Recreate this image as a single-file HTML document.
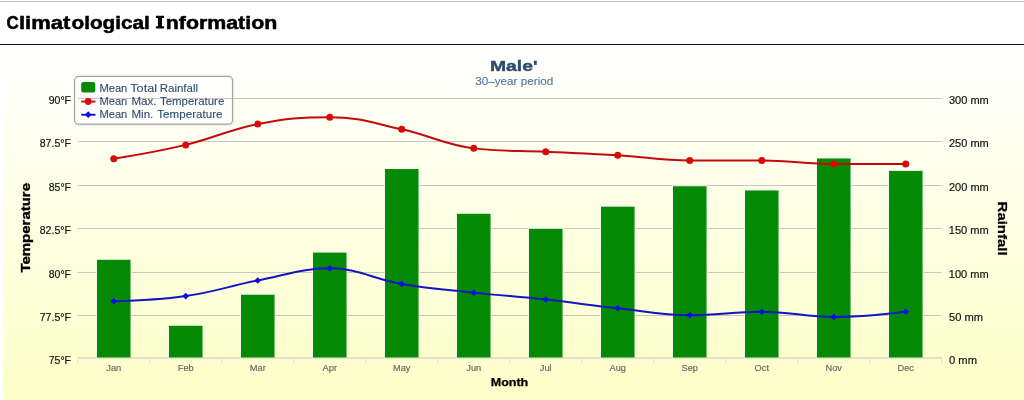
<!DOCTYPE html>
<html><head><meta charset="utf-8"><title>Climatological Information</title>
<style>
html,body{margin:0;padding:0;background:#fff;width:1024px;height:400px;overflow:hidden}
svg{display:block;font-family:"Liberation Sans",sans-serif;will-change:transform}
text{font-family:"Liberation Sans",sans-serif}
</style></head><body>
<svg width="1024" height="400" viewBox="0 0 1024 400">
<defs>
<linearGradient id="bg" x1="0" y1="0" x2="0" y2="1">
<stop offset="0" stop-color="#ffffff"/><stop offset="1" stop-color="#fcffc7"/>
</linearGradient>
</defs>
<rect x="0" y="0" width="1024" height="400" fill="#fff"/>
<rect x="0" y="1" width="1024" height="1" fill="#c4c4c4"/>
<rect x="0" y="44" width="1024" height="1" fill="#111"/>
<rect x="3" y="45" width="1021" height="355" fill="url(#bg)"/>

<text x="6.47" y="28.50" font-size="18.2" font-weight="bold" fill="#000" stroke="#000" stroke-width="0.5" textLength="12.31" lengthAdjust="spacingAndGlyphs">C</text>
<text x="18.97" y="28.50" font-size="18.2" font-weight="bold" fill="#000" stroke="#000" stroke-width="0.5" textLength="51.28" lengthAdjust="spacingAndGlyphs">limat</text>
<text x="71.49" y="28.50" font-size="18.2" font-weight="bold" fill="#000" stroke="#000" stroke-width="0.5" textLength="78.29" lengthAdjust="spacingAndGlyphs">ological</text>
<path d="M155.9 15.7h8.1v2.2h-2v8.4h2v2.2h-8.1v-2.2h2v-8.4h-2z" fill="#000"/>
<text x="165.73" y="28.50" font-size="18.2" font-weight="bold" fill="#000" stroke="#000" stroke-width="0.5" textLength="111.54" lengthAdjust="spacingAndGlyphs">nformation</text>
<rect x="77.75" y="98.0" width="864.00" height="1" fill="#c9c8be"/>
<rect x="77.75" y="141.0" width="864.00" height="1" fill="#c9c8be"/>
<rect x="77.75" y="185.0" width="864.00" height="1" fill="#c9c8be"/>
<rect x="77.75" y="228.0" width="864.00" height="1" fill="#c9c8be"/>
<rect x="77.75" y="272.0" width="864.00" height="1" fill="#c9c8be"/>
<rect x="77.75" y="315.0" width="864.00" height="1" fill="#c9c8be"/>
<rect x="77.75" y="357.2" width="864.00" height="1.4" fill="#d4d6c8"/>
<rect x="77.25" y="358" width="1" height="5" fill="#dfe1d0"/>
<rect x="149.25" y="358" width="1" height="5" fill="#dfe1d0"/>
<rect x="221.25" y="358" width="1" height="5" fill="#dfe1d0"/>
<rect x="293.25" y="358" width="1" height="5" fill="#dfe1d0"/>
<rect x="365.25" y="358" width="1" height="5" fill="#dfe1d0"/>
<rect x="437.25" y="358" width="1" height="5" fill="#dfe1d0"/>
<rect x="509.25" y="358" width="1" height="5" fill="#dfe1d0"/>
<rect x="581.25" y="358" width="1" height="5" fill="#dfe1d0"/>
<rect x="653.25" y="358" width="1" height="5" fill="#dfe1d0"/>
<rect x="725.25" y="358" width="1" height="5" fill="#dfe1d0"/>
<rect x="797.25" y="358" width="1" height="5" fill="#dfe1d0"/>
<rect x="869.25" y="358" width="1" height="5" fill="#dfe1d0"/>
<rect x="941.25" y="358" width="1" height="5" fill="#dfe1d0"/>
<rect x="96.00" y="258.78" width="35.5" height="98.72" fill="#ffffff" fill-opacity="0.7"/>
<rect x="96.95" y="259.78" width="33.6" height="97.72" fill="#048a04"/>
<rect x="168.00" y="324.73" width="35.5" height="32.77" fill="#ffffff" fill-opacity="0.7"/>
<rect x="168.95" y="325.73" width="33.6" height="31.77" fill="#048a04"/>
<rect x="240.00" y="293.70" width="35.5" height="63.80" fill="#ffffff" fill-opacity="0.7"/>
<rect x="240.95" y="294.70" width="33.6" height="62.80" fill="#048a04"/>
<rect x="312.00" y="251.58" width="35.5" height="105.92" fill="#ffffff" fill-opacity="0.7"/>
<rect x="312.95" y="252.58" width="33.6" height="104.92" fill="#048a04"/>
<rect x="384.00" y="168.04" width="35.5" height="189.46" fill="#ffffff" fill-opacity="0.7"/>
<rect x="384.95" y="169.04" width="33.6" height="188.46" fill="#048a04"/>
<rect x="456.00" y="212.76" width="35.5" height="144.74" fill="#ffffff" fill-opacity="0.7"/>
<rect x="456.95" y="213.76" width="33.6" height="143.74" fill="#048a04"/>
<rect x="528.00" y="227.84" width="35.5" height="129.66" fill="#ffffff" fill-opacity="0.7"/>
<rect x="528.95" y="228.84" width="33.6" height="128.66" fill="#048a04"/>
<rect x="600.00" y="205.65" width="35.5" height="151.85" fill="#ffffff" fill-opacity="0.7"/>
<rect x="600.95" y="206.65" width="33.6" height="150.85" fill="#048a04"/>
<rect x="672.00" y="185.28" width="35.5" height="172.22" fill="#ffffff" fill-opacity="0.7"/>
<rect x="672.95" y="186.28" width="33.6" height="171.22" fill="#048a04"/>
<rect x="744.00" y="189.44" width="35.5" height="168.06" fill="#ffffff" fill-opacity="0.7"/>
<rect x="744.95" y="190.44" width="33.6" height="167.06" fill="#048a04"/>
<rect x="816.00" y="157.46" width="35.5" height="200.04" fill="#ffffff" fill-opacity="0.7"/>
<rect x="816.95" y="158.46" width="33.6" height="199.04" fill="#048a04"/>
<rect x="888.00" y="169.86" width="35.5" height="187.64" fill="#ffffff" fill-opacity="0.7"/>
<rect x="888.95" y="170.86" width="33.6" height="186.64" fill="#048a04"/>
<path d="M113.75 158.77 C113.75 158.77 156.95 151.83 185.75 144.90 C214.55 137.97 228.95 129.65 257.75 124.10 C286.55 118.55 300.95 117.17 329.75 117.17 C358.55 117.17 372.95 123.06 401.75 129.30 C430.55 135.54 444.95 144.90 473.75 148.37 C502.55 151.83 516.95 150.45 545.75 151.83 C574.55 153.22 588.95 153.57 617.75 155.30 C646.55 157.03 660.95 160.50 689.75 160.50 C718.55 160.50 732.95 160.50 761.75 160.50 C790.55 160.50 804.95 163.97 833.75 163.97 C862.55 163.97 905.75 163.97 905.75 163.97" fill="none" stroke="#c20a0a" stroke-width="2" stroke-linecap="round" stroke-linejoin="round"/>
<circle cx="113.75" cy="158.77" r="3.5" fill="#da0a0a"/>
<circle cx="185.75" cy="144.90" r="3.5" fill="#da0a0a"/>
<circle cx="257.75" cy="124.10" r="3.5" fill="#da0a0a"/>
<circle cx="329.75" cy="117.17" r="3.5" fill="#da0a0a"/>
<circle cx="401.75" cy="129.30" r="3.5" fill="#da0a0a"/>
<circle cx="473.75" cy="148.37" r="3.5" fill="#da0a0a"/>
<circle cx="545.75" cy="151.83" r="3.5" fill="#da0a0a"/>
<circle cx="617.75" cy="155.30" r="3.5" fill="#da0a0a"/>
<circle cx="689.75" cy="160.50" r="3.5" fill="#da0a0a"/>
<circle cx="761.75" cy="160.50" r="3.5" fill="#da0a0a"/>
<circle cx="833.75" cy="163.97" r="3.5" fill="#da0a0a"/>
<circle cx="905.75" cy="163.97" r="3.5" fill="#da0a0a"/>
<path d="M113.75 301.30 C113.75 301.30 156.95 300.26 185.75 296.10 C214.55 291.94 228.95 286.05 257.75 280.50 C286.55 274.95 300.95 268.37 329.75 268.37 C358.55 268.37 372.95 279.11 401.75 283.97 C430.55 288.82 444.95 289.51 473.75 292.63 C502.55 295.75 516.95 296.45 545.75 299.57 C574.55 302.69 588.95 305.11 617.75 308.23 C646.55 311.35 660.95 315.17 689.75 315.17 C718.55 315.17 732.95 311.70 761.75 311.70 C790.55 311.70 804.95 316.90 833.75 316.90 C862.55 316.90 905.75 311.70 905.75 311.70" fill="none" stroke="#1414c4" stroke-width="2" stroke-linecap="round" stroke-linejoin="round"/>
<path d="M113.75 298.00 L117.05 301.30 L113.75 304.60 L110.45 301.30 Z" fill="#0a0aee"/>
<path d="M185.75 292.80 L189.05 296.10 L185.75 299.40 L182.45 296.10 Z" fill="#0a0aee"/>
<path d="M257.75 277.20 L261.05 280.50 L257.75 283.80 L254.45 280.50 Z" fill="#0a0aee"/>
<path d="M329.75 265.07 L333.05 268.37 L329.75 271.67 L326.45 268.37 Z" fill="#0a0aee"/>
<path d="M401.75 280.67 L405.05 283.97 L401.75 287.27 L398.45 283.97 Z" fill="#0a0aee"/>
<path d="M473.75 289.33 L477.05 292.63 L473.75 295.93 L470.45 292.63 Z" fill="#0a0aee"/>
<path d="M545.75 296.27 L549.05 299.57 L545.75 302.87 L542.45 299.57 Z" fill="#0a0aee"/>
<path d="M617.75 304.93 L621.05 308.23 L617.75 311.53 L614.45 308.23 Z" fill="#0a0aee"/>
<path d="M689.75 311.87 L693.05 315.17 L689.75 318.47 L686.45 315.17 Z" fill="#0a0aee"/>
<path d="M761.75 308.40 L765.05 311.70 L761.75 315.00 L758.45 311.70 Z" fill="#0a0aee"/>
<path d="M833.75 313.60 L837.05 316.90 L833.75 320.20 L830.45 316.90 Z" fill="#0a0aee"/>
<path d="M905.75 308.40 L909.05 311.70 L905.75 315.00 L902.45 311.70 Z" fill="#0a0aee"/>
<rect x="75.5" y="77.4" width="158" height="47.8" rx="4" ry="4" fill="none" stroke="#000" stroke-opacity="0.05" stroke-width="2"/>
<rect x="74.5" y="76.4" width="158" height="47.8" rx="4" ry="4" fill="#ffffff" fill-opacity="0.7" stroke="#a4a4a0" stroke-width="1.2"/>
<rect x="78" y="98" width="154" height="1" fill="#c9c8be"/>
<rect x="81.2" y="82.1" width="14.1" height="10.5" rx="2" ry="2" fill="#048a04"/>
<rect x="81.2" y="100.6" width="14.3" height="1.9" fill="#d00a0a"/>
<circle cx="88.2" cy="101.5" r="3.4" fill="#da0a0a"/>
<rect x="81.2" y="113.8" width="14.3" height="1.9" fill="#1414d0"/>
<path d="M88.2 111.3 L91.6 114.7 L88.2 118.1 L84.8 114.7 Z" fill="#0a0aee"/>
<text x="99.45" y="91.70" font-size="11.8" fill="#2f4b6e" stroke="#2f4b6e" stroke-width="0.1" textLength="27.84" lengthAdjust="spacingAndGlyphs">Mean</text>
<text x="99.45" y="104.70" font-size="11.8" fill="#2f4b6e" stroke="#2f4b6e" stroke-width="0.1" textLength="27.84" lengthAdjust="spacingAndGlyphs">Mean</text>
<text x="99.45" y="117.90" font-size="11.8" fill="#2f4b6e" stroke="#2f4b6e" stroke-width="0.1" textLength="27.84" lengthAdjust="spacingAndGlyphs">Mean</text>
<text x="130.25" y="91.70" font-size="11.8" fill="#2f4b6e" stroke="#2f4b6e" stroke-width="0.1" textLength="26.78" lengthAdjust="spacingAndGlyphs">Total</text>
<text x="159.71" y="91.70" font-size="11.8" fill="#2f4b6e" stroke="#2f4b6e" stroke-width="0.1" textLength="38.33" lengthAdjust="spacingAndGlyphs">Rainfall</text>
<text x="131.44" y="104.70" font-size="11.8" fill="#2f4b6e" stroke="#2f4b6e" stroke-width="0.1" textLength="25.14" lengthAdjust="spacingAndGlyphs">Max.</text>
<text x="160.00" y="104.70" font-size="11.8" fill="#2f4b6e" stroke="#2f4b6e" stroke-width="0.1" textLength="64.26" lengthAdjust="spacingAndGlyphs">Temperature</text>
<text x="131.43" y="117.90" font-size="11.8" fill="#2f4b6e" stroke="#2f4b6e" stroke-width="0.1" textLength="21.92" lengthAdjust="spacingAndGlyphs">Min.</text>
<text x="157.25" y="117.90" font-size="11.8" fill="#2f4b6e" stroke="#2f4b6e" stroke-width="0.1" textLength="65.26" lengthAdjust="spacingAndGlyphs">Temperature</text>
<text x="489.95" y="71.10" font-size="15.4" font-weight="bold" fill="#274b6d" stroke="#274b6d" stroke-width="0.4" textLength="47.58" lengthAdjust="spacingAndGlyphs">Male'</text>
<text x="475.24" y="84.50" font-size="11" fill="#4d759e" stroke="#4d759e" stroke-width="0.1" textLength="78.03" lengthAdjust="spacingAndGlyphs">30–year period</text>
<text x="48.74" y="103.80" font-size="11.3" fill="#151515" stroke="#151515" stroke-width="0.2" textLength="22.27" lengthAdjust="spacingAndGlyphs">90°F</text>
<text x="39.74" y="146.80" font-size="11.3" fill="#151515" stroke="#151515" stroke-width="0.2" textLength="31.26" lengthAdjust="spacingAndGlyphs">87.5°F</text>
<text x="48.74" y="190.80" font-size="11.3" fill="#151515" stroke="#151515" stroke-width="0.2" textLength="22.27" lengthAdjust="spacingAndGlyphs">85°F</text>
<text x="39.74" y="233.80" font-size="11.3" fill="#151515" stroke="#151515" stroke-width="0.2" textLength="31.26" lengthAdjust="spacingAndGlyphs">82.5°F</text>
<text x="48.74" y="277.80" font-size="11.3" fill="#151515" stroke="#151515" stroke-width="0.2" textLength="22.27" lengthAdjust="spacingAndGlyphs">80°F</text>
<text x="39.74" y="320.80" font-size="11.3" fill="#151515" stroke="#151515" stroke-width="0.2" textLength="31.27" lengthAdjust="spacingAndGlyphs">77.5°F</text>
<text x="48.74" y="363.80" font-size="11.3" fill="#151515" stroke="#151515" stroke-width="0.2" textLength="22.27" lengthAdjust="spacingAndGlyphs">75°F</text>
<text x="948.99" y="103.60" font-size="11.3" fill="#151515" stroke="#151515" stroke-width="0.2" textLength="39.78" lengthAdjust="spacingAndGlyphs">300 mm</text>
<text x="948.99" y="146.60" font-size="11.3" fill="#151515" stroke="#151515" stroke-width="0.2" textLength="39.78" lengthAdjust="spacingAndGlyphs">250 mm</text>
<text x="948.99" y="190.60" font-size="11.3" fill="#151515" stroke="#151515" stroke-width="0.2" textLength="39.78" lengthAdjust="spacingAndGlyphs">200 mm</text>
<text x="948.73" y="233.60" font-size="11.3" fill="#151515" stroke="#151515" stroke-width="0.2" textLength="40.04" lengthAdjust="spacingAndGlyphs">150 mm</text>
<text x="948.73" y="277.60" font-size="11.3" fill="#151515" stroke="#151515" stroke-width="0.2" textLength="40.04" lengthAdjust="spacingAndGlyphs">100 mm</text>
<text x="948.99" y="320.60" font-size="11.3" fill="#151515" stroke="#151515" stroke-width="0.2" textLength="34.03" lengthAdjust="spacingAndGlyphs">50 mm</text>
<text x="948.99" y="363.60" font-size="11.3" fill="#151515" stroke="#151515" stroke-width="0.2" textLength="28.04" lengthAdjust="spacingAndGlyphs">0 mm</text>
<text x="113.75" y="371" font-size="9.3" fill="#666660" stroke="#666660" stroke-width="0.15" text-anchor="middle">Jan</text>
<text x="185.75" y="371" font-size="9.3" fill="#666660" stroke="#666660" stroke-width="0.15" text-anchor="middle">Feb</text>
<text x="257.75" y="371" font-size="9.3" fill="#666660" stroke="#666660" stroke-width="0.15" text-anchor="middle">Mar</text>
<text x="329.75" y="371" font-size="9.3" fill="#666660" stroke="#666660" stroke-width="0.15" text-anchor="middle">Apr</text>
<text x="401.75" y="371" font-size="9.3" fill="#666660" stroke="#666660" stroke-width="0.15" text-anchor="middle">May</text>
<text x="473.75" y="371" font-size="9.3" fill="#666660" stroke="#666660" stroke-width="0.15" text-anchor="middle">Jun</text>
<text x="545.75" y="371" font-size="9.3" fill="#666660" stroke="#666660" stroke-width="0.15" text-anchor="middle">Jul</text>
<text x="617.75" y="371" font-size="9.3" fill="#666660" stroke="#666660" stroke-width="0.15" text-anchor="middle">Aug</text>
<text x="689.75" y="371" font-size="9.3" fill="#666660" stroke="#666660" stroke-width="0.15" text-anchor="middle">Sep</text>
<text x="761.75" y="371" font-size="9.3" fill="#666660" stroke="#666660" stroke-width="0.15" text-anchor="middle">Oct</text>
<text x="833.75" y="371" font-size="9.3" fill="#666660" stroke="#666660" stroke-width="0.15" text-anchor="middle">Nov</text>
<text x="905.75" y="371" font-size="9.3" fill="#666660" stroke="#666660" stroke-width="0.15" text-anchor="middle">Dec</text>
<text x="490.72" y="385.60" font-size="10.5" font-weight="bold" fill="#000" stroke="#000" stroke-width="0.25" textLength="37.54" lengthAdjust="spacingAndGlyphs">Month</text>
<text transform="translate(30.0 272.6) rotate(-90)" x="0" y="0" font-size="13.4" font-weight="bold" fill="#000" stroke="#000" stroke-width="0.35" textLength="89.6" lengthAdjust="spacingAndGlyphs">Temperature</text>
<text transform="translate(998.1 201.6) rotate(90)" x="0" y="0" font-size="13" font-weight="bold" fill="#000" stroke="#000" stroke-width="0.25" textLength="54" lengthAdjust="spacingAndGlyphs">Rainfall</text>
</svg></body></html>
